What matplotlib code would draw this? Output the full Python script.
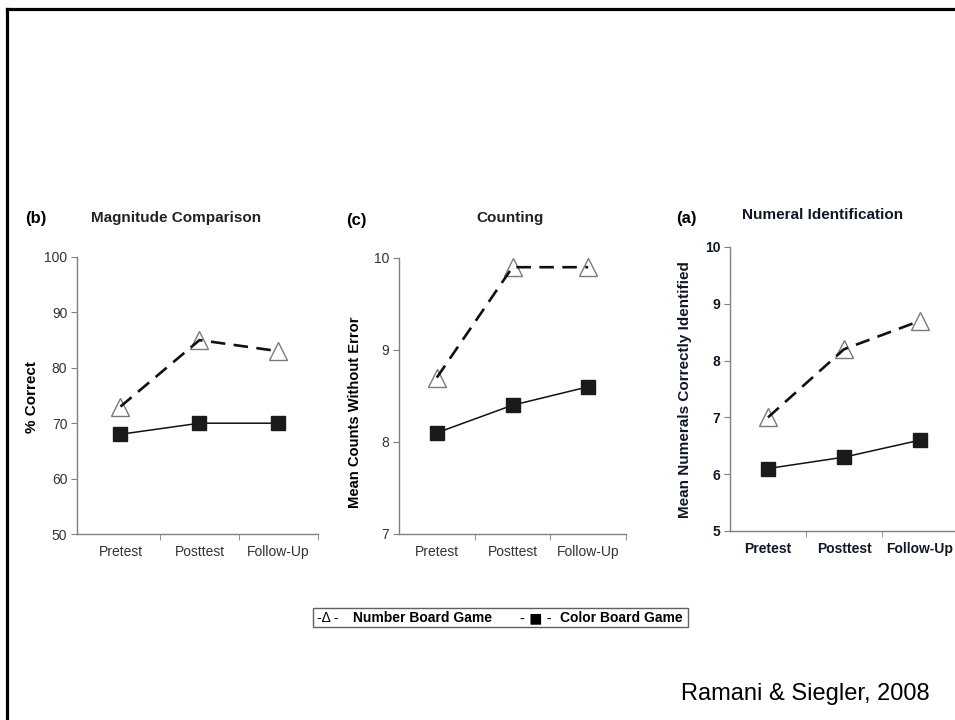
import matplotlib
matplotlib.use("Agg")
import matplotlib.pyplot as plt
from matplotlib.patches import Rectangle
from matplotlib.lines import Line2D

plt.rcParams['font.family'] = ['Liberation Sans', 'DejaVu Sans']

W, H = 955, 720

# data
phases = ["Pretest", "Posttest", "Follow-Up"]

magnitude_number = [73, 85, 83]
magnitude_color = [68, 70, 70]

counting_number = [8.7, 9.9, 9.9]
counting_color = [8.1, 8.4, 8.6]

numeral_number = [7.0, 8.2, 8.7]
numeral_color = [6.1, 6.3, 6.6]


def fx(px):
    return px / W


def fy(py):
    return 1 - py / H


fig = plt.figure(figsize=(W / 100, H / 100), dpi=100)

# slide frame (top and left edges show)
fig.add_artist(Line2D([fx(7), fx(7)], [0, fy(9)], color='black', lw=2.3))
fig.add_artist(Line2D([fx(7), 1], [fy(9), fy(9)], color='black', lw=2.3))


def panel(rect, xlim, ylim, yticks, num, col, bold_ticks=False):
    ax = fig.add_axes(rect)
    x = range(len(phases))
    ax.plot(x, num, linestyle='none', marker='^', markersize=12.5,
            markerfacecolor='white', markeredgecolor='#7a7a7a', markeredgewidth=1.0, zorder=2)
    ax.plot(x, num, color='#111111', lw=1.9, linestyle=(0, (5.5, 3.2)), zorder=3)
    ax.plot(x, col, color='#111111', lw=1.1, marker='s', markersize=10,
            markerfacecolor='#1a1a1a', markeredgecolor='#1a1a1a', zorder=3)
    ax.set_xlim(*xlim)
    ax.set_ylim(*ylim)
    ax.set_yticks(yticks)
    ax.set_xticks(list(x))
    ax.set_xticklabels(phases)
    ax.set_xticks([0.5, 1.5, 2.5], minor=True)
    for s in ['top', 'right']:
        ax.spines[s].set_visible(False)
    for s in ['left', 'bottom']:
        ax.spines[s].set_color('#808080')
        ax.spines[s].set_linewidth(1.0)
    tc = '#101828' if bold_ticks else '#333333'
    fw = 'bold' if bold_ticks else 'normal'
    ax.tick_params(axis='x', which='major', length=0, pad=8, labelsize=10, labelcolor=tc)
    ax.tick_params(axis='x', which='minor', length=4, color='#808080', direction='out')
    ax.tick_params(axis='y', length=4, color='#808080', labelsize=10, labelcolor=tc, pad=3)
    for lab in ax.get_xticklabels() + ax.get_yticklabels():
        lab.set_fontweight(fw)
    ax.patch.set_alpha(0)
    return ax


panel([fx(77), fy(534), fx(318) - fx(77), fy(257) - fy(534)], (-0.55, 2.5), (50, 100),
      [50, 60, 70, 80, 90, 100], magnitude_number, magnitude_color)
panel([fx(399), fy(534), fx(626) - fx(399), fy(258) - fy(534)], (-0.5, 2.5), (7, 10),
      [7, 8, 9, 10], counting_number, counting_color)
panel([fx(730), fy(531), fx(958) - fx(730), fy(247) - fy(531)], (-0.5, 2.5), (5, 10),
      [5, 6, 7, 8, 9, 10], numeral_number, numeral_color, bold_ticks=True)

# panel headings
fig.text(fx(25), fy(219), "(b)", fontsize=12, fontweight='bold', va='center', ha='left')
fig.text(fx(176), fy(218), "Magnitude Comparison", fontsize=11, fontweight='bold',
         va='center', ha='center', color='#222222')
fig.text(fx(346), fy(220), "(c)", fontsize=12, fontweight='bold', va='center', ha='left')
fig.text(fx(510), fy(218), "Counting", fontsize=11, fontweight='bold',
         va='center', ha='center', color='#222222')
fig.text(fx(676), fy(218), "(a)", fontsize=12, fontweight='bold', va='center', ha='left')
fig.text(fx(823), fy(215), "Numeral Identification", fontsize=11, fontweight='bold',
         va='center', ha='center', color='#101828')

# y axis labels
fig.text(fx(32), fy(397), "% Correct", fontsize=11, fontweight='bold', rotation=90,
         va='center', ha='center')
fig.text(fx(355), fy(412), "Mean Counts Without Error", fontsize=10.6, fontweight='bold',
         rotation=90, va='center', ha='center')
fig.text(fx(685), fy(390), "Mean Numerals Correctly Identified", fontsize=11,
         fontweight='bold', rotation=90, va='center', ha='center', color='#101828')

# legend box
fig.add_artist(Rectangle((fx(313), fy(627)), fx(688) - fx(313), fy(608) - fy(627),
                         facecolor='white', edgecolor='#606060', lw=1.0))
ly = fy(618)
fig.text(fx(317), ly, "-\u0394 -", fontsize=10, va='center', ha='left')
fig.text(fx(353), ly, "Number Board Game", fontsize=10, fontweight='bold', va='center', ha='left')
fig.text(fx(520), ly, "- \u25a0 -", fontsize=10, va='center', ha='left',
         family=['DejaVu Sans'])
fig.text(fx(560), ly, "Color Board Game", fontsize=10, fontweight='bold', va='center', ha='left')

# citation
fig.text(fx(930), fy(700), "Ramani & Siegler, 2008", fontsize=17, va='baseline', ha='right')

fig.savefig("out.png", dpi=100)
